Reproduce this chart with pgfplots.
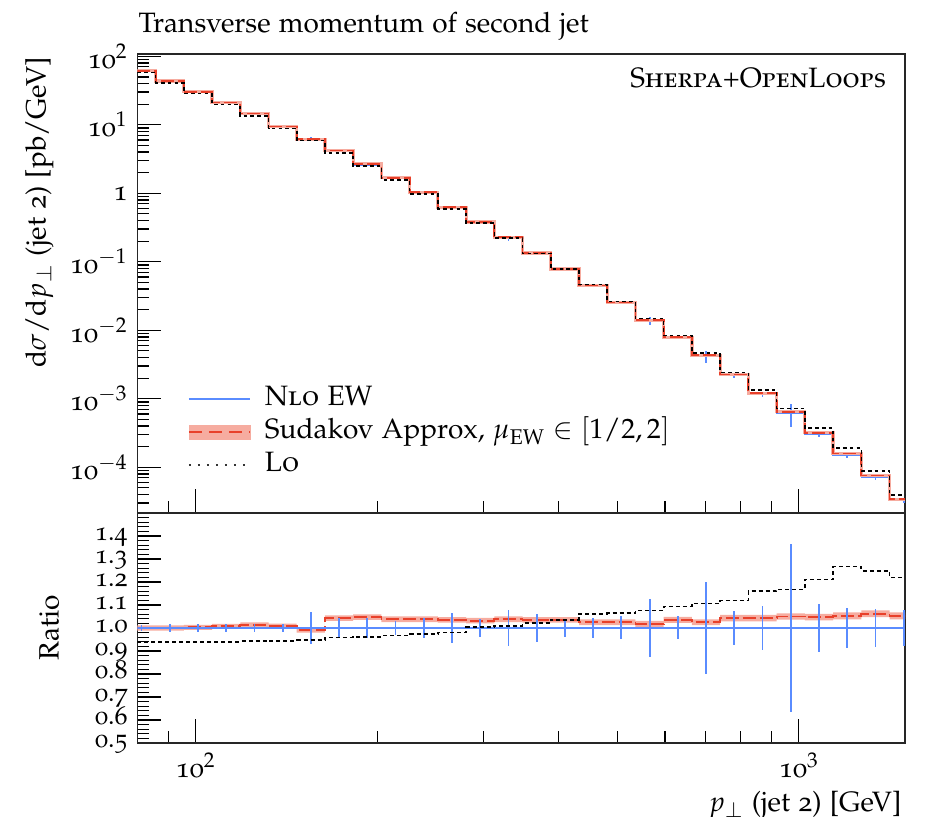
\documentclass[border=0pt]{standalone}
\usepackage[T1]{fontenc}
\usepackage[sc,osf]{mathpazo}
\usepackage{pgfplots}
\pgfplotsset{compat=1.18}
\definecolor{nloblue}{RGB}{90,140,255}
\definecolor{sudred}{RGB}{232,64,42}
\definecolor{bandred}{RGB}{246,172,160}
\begin{document}
\fontsize{14}{17}\selectfont
\begin{tikzpicture}
\useasboundingbox (-68.65pt,-152pt) rectangle (396.35pt,256.5pt);
\begin{axis}[name=top, at={(0,0)}, anchor=south west, height=229.5pt,
  scale only axis, width=383.85pt, xmode=log, xmin=80, xmax=1500,
  axis line style={black!85, line width=0.8pt},
  xtick pos=bottom, ytick pos=left, tick align=inside,
  major tick length=12pt, minor tick length=6pt,
  tick style={black, line width=0.6pt},
  xtick={100,1000}, minor xtick={90,200,300,400,500,600,700,800,900},
  tick label style={font=\fontsize{14}{17}\selectfont},
  ymode=log, ymin=2.15e-5, ymax=108,
  xticklabels={},
  ytick={1e-4,1e-3,1e-2,1e-1,1,10,100},
  yticklabels={10$^{-4}$,10$^{-3}$,10$^{-2}$,10$^{-1}$,1,10$^{1}$,10$^{2}$},
  minor ytick={3e-5,4e-5,5e-5,6e-5,7e-5,8e-5,9e-5,
    2e-4,3e-4,4e-4,5e-4,6e-4,7e-4,8e-4,9e-4,
    2e-3,3e-3,4e-3,5e-3,6e-3,7e-3,8e-3,9e-3,
    2e-2,3e-2,4e-2,5e-2,6e-2,7e-2,8e-2,9e-2,
    0.2,0.3,0.4,0.5,0.6,0.7,0.8,0.9,
    2,3,4,5,6,7,8,9,20,30,40,50,60,70,80,90},
  legend cell align=left,
  legend style={at={(rel axis cs:0.066,0.277)}, anchor=north west, draw=none, fill=none,
    inner sep=0pt, outer sep=0pt, row sep=3pt, column sep=7pt,
    nodes={inner sep=0pt, text height=10pt, text depth=3.5pt, font=\fontsize{14}{17}\selectfont}},
]
% NLO EW
\addplot[nloblue, line width=0.75pt, const plot, forget plot] coordinates {
(80,61.7) (85.79,43.6) (95.55,30.4) (106.42,21.0) (118.53,14.4) (132.02,9.38) (147.05,6.21) (163.78,4.05) (182.42,2.59) (203.18,1.63) (226.30,1.00) (252.05,0.604) (280.74,0.368) (312.68,0.220) (348.27,0.130) (387.90,0.0759) (432.04,0.0439) (481.21,0.0248) (535.97,0.0138) (596.96,0.00764) (664.89,0.00422) (740.55,0.00217) (824.83,0.00116) (918.69,0.000614) (1023.3,0.000306) (1139.7,0.000151) (1269.4,7.14e-5) (1413.9,3.25e-5) (1500,3.25e-5)};
\addplot[draw=none, mark=none, forget plot,
  error bars/.cd, y dir=both, y explicit, error mark=none,
  error bar style={draw=nloblue, line width=0.9pt}] coordinates {
(155.19,6.21) +- (0,0.435)
(266.01,0.604) +- (0,0.039)
(330.0,0.220) +- (0,0.0176)
(565.7,0.0138) +- (0,0.00173)
(701.7,0.00422) +- (0,0.000836)
(781.6,0.00217) +- (0,0.000163)
(870.5,0.00116) +- (0,0.00011)
(969.7,0.000614) +- (0,0.000225)
(1080.1,0.000306) +- (0,0.0000321)
(1203.0,0.000151) +- (0,0.000013)
(1340.0,7.14e-5) +- (0,5.9e-6)
(1492.6,3.25e-5) +- (0,2.6e-6)};
% Sudakov
\addplot[bandred, line width=1.6pt, const plot, forget plot] coordinates {
(80,61.7) (85.79,43.6) (95.55,30.5) (106.42,21.15) (118.53,14.59) (132.02,9.46) (147.05,6.15) (163.78,4.22) (182.42,2.71) (203.18,1.69) (226.30,1.038) (252.05,0.625) (280.74,0.380) (312.68,0.228) (348.27,0.1346) (387.90,0.0786) (432.04,0.0450) (481.21,0.0254) (535.97,0.01405) (596.96,0.00791) (664.89,0.00433) (740.55,0.00226) (824.83,0.00121) (918.69,0.000645) (1023.3,0.000320) (1139.7,0.000159) (1269.4,7.58e-5) (1413.9,3.42e-5) (1500,3.42e-5)};
\addplot[sudred, line width=0.9pt, const plot, forget plot, dash pattern=on 6.5pt off 2pt] coordinates {
(80,61.7) (85.79,43.6) (95.55,30.5) (106.42,21.15) (118.53,14.59) (132.02,9.46) (147.05,6.15) (163.78,4.22) (182.42,2.71) (203.18,1.69) (226.30,1.038) (252.05,0.625) (280.74,0.380) (312.68,0.228) (348.27,0.1346) (387.90,0.0786) (432.04,0.0450) (481.21,0.0254) (535.97,0.01405) (596.96,0.00791) (664.89,0.00433) (740.55,0.00226) (824.83,0.00121) (918.69,0.000645) (1023.3,0.000320) (1139.7,0.000159) (1269.4,7.58e-5) (1413.9,3.42e-5) (1500,3.42e-5)};
% LO
\addplot[black, line width=0.8pt, const plot, forget plot, dash pattern=on 1.8pt off 1.6pt] coordinates {
(80,58.0) (85.79,41.0) (95.55,28.6) (106.42,19.74) (118.53,13.56) (132.02,8.85) (147.05,5.88) (163.78,3.88) (182.42,2.49) (203.18,1.576) (226.30,0.974) (252.05,0.592) (280.74,0.369) (312.68,0.222) (348.27,0.1327) (387.90,0.0786) (432.04,0.0466) (481.21,0.0264) (535.97,0.01485) (596.96,0.00836) (664.89,0.00467) (740.55,0.00243) (824.83,0.001346) (918.69,0.000717) (1023.3,0.000371) (1139.7,0.000191) (1269.4,8.91e-5) (1413.9,3.96e-5) (1500,3.96e-5)};
\addlegendimage{legend image code/.code={\draw[draw=nloblue, line width=1pt] (0pt,0pt) -- (30.5pt,0pt);}}
\addlegendentry{N\textsc{lo} EW}
\addlegendimage{legend image code/.code={\fill[bandred] (0pt,-3.5pt) rectangle (30.5pt,3.5pt); \draw[sudred, line width=0.9pt, dash pattern=on 6.5pt off 3.5pt] (0pt,0pt) -- (30.5pt,0pt);}}
\addlegendentry{Sudakov Approx, $\mu_{\mathrm{EW}}\in[1/2,2]$}
\addlegendimage{legend image code/.code={\draw[black!80, line width=0.9pt, dash pattern=on 1pt off 3.5pt] (0pt,0pt) -- (30.5pt,0pt);}}
\addlegendentry{\textsc{Lo}}
\node[anchor=base east, inner sep=0pt] at (rel axis cs:0.976,0.926) {\textsc{Sherpa+OpenLoops}};
\end{axis}
\begin{axis}[name=bot, at={(top.south west)}, anchor=north west, height=115pt,
  scale only axis, width=383.85pt, xmode=log, xmin=80, xmax=1500,
  axis line style={black!85, line width=0.8pt},
  xtick pos=bottom, ytick pos=left, tick align=inside,
  major tick length=12pt, minor tick length=6pt,
  tick style={black, line width=0.6pt},
  xtick={100,1000}, minor xtick={90,200,300,400,500,600,700,800,900},
  tick label style={font=\fontsize{14}{17}\selectfont},
  yticklabel style={font=\fontsize{13}{15}\selectfont, inner ysep=0pt, text height=5pt, text depth=0pt},
  ymin=0.5, ymax=1.5,
  xticklabels={10$^{2}$,10$^{3}$},
  ytick={0.5,0.6,0.7,0.8,0.9,1.0,1.1,1.2,1.3,1.4,1.5},
  yticklabels={0.5,0.6,0.7,0.8,0.9,1.0,1.1,1.2,1.3,1.4,{}},
  minor y tick num=4,
]
% Sudakov band: upper edge forward, lower edge backward
\addplot[fill=bandred, draw=none, const plot, forget plot] coordinates {
(80,1.011) (85.79,1.011) (95.55,1.014) (106.42,1.018) (118.53,1.024) (132.02,1.019) (147.05,1.002) (163.78,1.055) (182.42,1.059) (203.18,1.050) (226.30,1.050) (252.05,1.047) (280.74,1.044) (312.68,1.050) (348.27,1.047) (387.90,1.047) (432.04,1.038) (481.21,1.038) (535.97,1.031) (596.96,1.048) (664.89,1.038) (740.55,1.057) (824.83,1.057) (918.69,1.064) (1023.3,1.061) (1139.7,1.068) (1269.4,1.077) (1413.9,1.068) (1500,1.068)
(1500,1.038) (1413.9,1.047) (1269.4,1.038) (1139.7,1.033) (1023.3,1.036) (918.69,1.029) (824.83,1.029) (740.55,1.012) (664.89,1.022) (596.96,1.005) (535.97,1.012) (481.21,1.012) (432.04,1.023) (387.90,1.023) (348.27,1.026) (312.68,1.020) (280.74,1.023) (252.05,1.026) (226.30,1.026) (203.18,1.035) (182.42,1.031) (163.78,0.980) (147.05,0.997) (132.02,1.002) (118.53,0.996) (106.42,0.992) (95.55,0.989) (85.79,0.989) (80,0.989)};
\addplot[sudred, line width=0.9pt, const plot, forget plot, dash pattern=on 6.5pt off 2pt] coordinates {
(80,1.000) (85.79,1.000) (95.55,1.003) (106.42,1.007) (118.53,1.013) (132.02,1.008) (147.05,0.991) (163.78,1.043) (182.42,1.047) (203.18,1.038) (226.30,1.038) (252.05,1.035) (280.74,1.032) (312.68,1.038) (348.27,1.035) (387.90,1.035) (432.04,1.025) (481.21,1.025) (535.97,1.018) (596.96,1.035) (664.89,1.025) (740.55,1.043) (824.83,1.043) (918.69,1.050) (1023.3,1.047) (1139.7,1.053) (1269.4,1.062) (1413.9,1.053) (1500,1.053)};
\addplot[nloblue, line width=0.75pt, forget plot] coordinates {(80,1) (1500,1)};
\addplot[draw=none, mark=none, forget plot,
  error bars/.cd, y dir=both, y explicit, error mark=none,
  error bar style={draw=nloblue, line width=0.9pt}] coordinates {
(81.28,1) +- (0,0.012)
(90.54,1) +- (0,0.018)
(100.84,1) +- (0,0.016)
(112.31,1) +- (0,0.016)
(125.10,1) +- (0,0.016)
(139.34,1) +- (0,0.016)
(155.19,1) +- (0,0.070)
(172.85,1) +- (0,0.044)
(192.52,1) +- (0,0.044)
(214.44,1) +- (0,0.030)
(238.84,1) +- (0,0.044)
(266.01,1) +- (0,0.065)
(296.28,1) +- (0,0.040)
(330.0,1) +- (0,0.080)
(367.6,1) +- (0,0.060)
(409.4,1) +- (0,0.037)
(456.0,1) +- (0,0.044)
(507.8,1) +- (0,0.050)
(565.7,1) +- (0,0.125)
(630.0,1) +- (0,0.050)
(701.7,1) +- (0,0.198)
(781.6,1) +- (0,0.075)
(870.5,1) +- (0,0.095)
(969.7,1) +- (0,0.367)
(1080.1,1) +- (0,0.105)
(1203.0,1) +- (0,0.086)
(1340.0,1) +- (0,0.082)
(1492.6,1) +- (0,0.080)};
\addplot[black, line width=0.85pt, const plot, forget plot, dash pattern=on 2pt off 1.5pt] coordinates {
(80,0.940) (85.79,0.940) (95.55,0.940) (106.42,0.940) (118.53,0.942) (132.02,0.944) (147.05,0.947) (163.78,0.959) (182.42,0.962) (203.18,0.967) (226.30,0.974) (252.05,0.980) (280.74,1.003) (312.68,1.009) (348.27,1.021) (387.90,1.035) (432.04,1.062) (481.21,1.065) (535.97,1.076) (596.96,1.094) (664.89,1.106) (740.55,1.120) (824.83,1.160) (918.69,1.167) (1023.3,1.211) (1139.7,1.267) (1269.4,1.248) (1413.9,1.219) (1500,1.219)};
\end{axis}
\node[anchor=base west, inner sep=0pt] at ([yshift=10.5pt, xshift=0.4pt]top.north west) {Transverse momentum of second jet};
\node[rotate=90, anchor=east, inner sep=0pt] at ([xshift=-49pt, yshift=-1.5pt]top.north west) {$\mathrm{d}\sigma/\mathrm{d}p_{\perp}$ (jet 2) [pb/GeV]};
\node[rotate=90, inner sep=0pt] at ([xshift=-44pt]bot.west) {Ratio};
\node[anchor=base east, inner sep=0pt] at ([xshift=-1.65pt, yshift=-34.3pt]bot.south east) {$p_{\perp}$ (jet 2) [GeV]};
\end{tikzpicture}
\end{document}
